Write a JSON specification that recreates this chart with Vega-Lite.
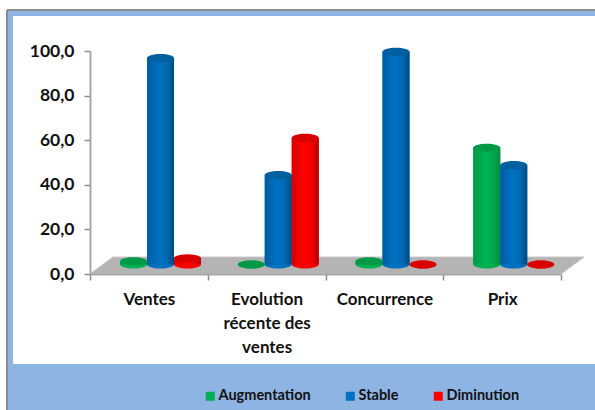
{"$schema":"https://vega.github.io/schema/vega-lite/v6.json","width":588,"height":400,"autosize":{"type":"none"},"padding":{"left":7,"top":10,"right":0,"bottom":0},"background":"white","view":{"fill":"#8eb4e3","stroke":null},"config":{"font":"Lato"},"datasets":{"bars":[{"categorie":"Ventes","serie":"Augmentation","valeur":1.5},{"categorie":"Ventes","serie":"Stable","valeur":95.6},{"categorie":"Ventes","serie":"Diminution","valeur":2.9},{"categorie":"Evolution récente des ventes","serie":"Augmentation","valeur":0},{"categorie":"Evolution récente des ventes","serie":"Stable","valeur":41.4},{"categorie":"Evolution récente des ventes","serie":"Diminution","valeur":58.6},{"categorie":"Concurrence","serie":"Augmentation","valeur":1.5},{"categorie":"Concurrence","serie":"Stable","valeur":98.5},{"categorie":"Concurrence","serie":"Diminution","valeur":0},{"categorie":"Prix","serie":"Augmentation","valeur":54},{"categorie":"Prix","serie":"Stable","valeur":46},{"categorie":"Prix","serie":"Diminution","valeur":0}],"floor":[{"x":0,"top":0,"bottom":0},{"x":0.195,"top":7.6,"bottom":0},{"x":4,"top":7.6,"bottom":0},{"x":4.195,"top":7.6,"bottom":7.6}],"panel":[{"x0":0.0102,"x1":1,"y0":0.015,"y1":0.885}]},"layer":[{"data":{"name":"panel"},"mark":{"type":"rect","fill":"white"},"encoding":{"x":{"field":"x0","type":"quantitative","scale":{"domain":[0,1],"range":[0,588],"nice":false,"zero":false},"axis":null},"x2":{"field":"x1"},"y":{"field":"y0","type":"quantitative","scale":{"domain":[0,1],"range":[0,400],"nice":false,"zero":false},"axis":null},"y2":{"field":"y1"}}},{"data":{"name":"panel"},"mark":{"type":"rule","stroke":"#8c8c8c","strokeWidth":2},"encoding":{"x":{"datum":0,"type":"quantitative","scale":{"domain":[0,1],"range":[0,588]},"axis":null}}},{"data":{"name":"panel"},"mark":{"type":"rule","stroke":"#8c8c8c","strokeWidth":2},"encoding":{"y":{"datum":0,"type":"quantitative","scale":{"domain":[0,1],"range":[0,400]},"axis":null}}},{"data":{"name":"floor"},"mark":{"type":"area","fill":"#b4b4b4","stroke":"#c4c4c4","strokeWidth":1},"encoding":{"x":{"field":"x","type":"quantitative","scale":{"domain":[0,4],"range":[83,554],"nice":false,"zero":false},"axis":null},"y":{"field":"top","type":"quantitative","scale":{"domain":[0,100],"range":[264,41],"nice":false},"axis":null},"y2":{"field":"bottom"}}},{"data":{"name":"bars"},"mark":{"type":"rule","opacity":0},"encoding":{"x":{"field":"categorie","type":"nominal","sort":null,"scale":{"domain":["Ventes","Evolution récente des ventes","Concurrence","Prix"],"range":[83,554],"paddingInner":0,"paddingOuter":0},"axis":{"title":null,"zindex":1,"orient":"bottom","offset":-136,"labelAngle":0,"tickBand":"extent","domainColor":"#a6a6a6","domainWidth":2,"tickColor":"#8c8c8c","tickWidth":1.5,"tickSize":6,"labelFont":"Lato","labelFontWeight":"bold","labelFontSize":17,"labelColor":"#111111","labelPadding":11,"labelLineHeight":24,"labelLimit":0,"labelExpr":"datum.label=='Evolution récente des ventes'?['Evolution','récente des','ventes']:datum.label"}},"y":{"field":"valeur","type":"quantitative","scale":{"domain":[0,100],"range":[264,41],"nice":false},"axis":{"title":null,"zindex":1,"orient":"left","offset":-83,"values":[0,20,40,60,80,100],"grid":false,"domainColor":"#a6a6a6","domainWidth":2,"tickColor":"#8c8c8c","tickWidth":1.5,"tickSize":6,"labelFont":"Lato","labelFontWeight":"bold","labelFontSize":17.5,"labelColor":"#111111","labelPadding":10,"labelExpr":"replace(format(datum.value,'.1f'),'.',',')"}}}},{"data":{"name":"bars"},"mark":{"type":"bar"},"encoding":{"x":{"field":"categorie","type":"nominal","sort":null,"scale":{"domain":["Ventes","Evolution récente des ventes","Concurrence","Prix"],"range":[83,554],"paddingInner":0,"paddingOuter":0},"axis":null},"xOffset":{"field":"serie","type":"nominal","sort":null,"scale":{"domain":["Augmentation","Stable","Diminution"],"range":[30,111],"paddingInner":0,"paddingOuter":0}},"y":{"field":"valeur","type":"quantitative","scale":{"domain":[0,100],"range":[254.5,38.5],"nice":false},"axis":null},"color":{"field":"serie","type":"nominal","sort":null,"scale":{"domain":["Augmentation","Stable","Diminution"],"range":["#00b050","#0070c0","#ff0000"]},"legend":{"title":null,"orient":"none","legendX":196,"legendY":379,"columns":3,"gridAlign":"none","columnPadding":32,"symbolType":"square","symbolSize":81,"symbolStrokeWidth":0,"labelFont":"Lato","labelFontWeight":"bold","labelFontSize":14.5,"labelColor":"#111111","labelOffset":1,"labelLimit":0}}}},{"data":{"name":"bars"},"mark":{"type":"point","filled":true,"opacity":1,"shape":"M-1,0A1,0.3,0,1,0,1,0A1,0.3,0,1,0,-1,0Z","size":729},"encoding":{"x":{"field":"categorie","type":"nominal","sort":null,"scale":{"domain":["Ventes","Evolution récente des ventes","Concurrence","Prix"],"range":[83,554],"paddingInner":0,"paddingOuter":0},"axis":null},"xOffset":{"field":"serie","type":"nominal","sort":null,"scale":{"domain":["Augmentation","Stable","Diminution"],"range":[43.5,97.5],"padding":0}},"y":{"datum":0,"type":"quantitative","scale":{"domain":[0,100],"range":[254.5,38.5],"nice":false},"axis":null},"color":{"field":"serie","type":"nominal","sort":null,"scale":{"domain":["Augmentation","Stable","Diminution"],"range":["#00b050","#0070c0","#ff0000"]},"legend":null}}},{"data":{"name":"bars"},"transform":[{"filter":"datum.valeur>0"}],"mark":{"type":"bar"},"encoding":{"x":{"field":"categorie","type":"nominal","sort":null,"scale":{"domain":["Ventes","Evolution récente des ventes","Concurrence","Prix"],"range":[83,554],"paddingInner":0,"paddingOuter":0},"axis":null},"xOffset":{"field":"serie","type":"nominal","sort":null,"scale":{"domain":["Augmentation","Stable","Diminution"],"range":[30,111],"paddingInner":0,"paddingOuter":0}},"y":{"field":"valeur","type":"quantitative","scale":{"domain":[0,100],"range":[254.5,38.5],"nice":false},"axis":null},"fill":{"condition":[{"test":"datum.serie=='Stable'","value":{"gradient":"linear","x1":0,"x2":1,"y1":0,"y2":0,"stops":[{"offset":0,"color":"#005c9e"},{"offset":0.45,"color":"#0072c4"},{"offset":0.75,"color":"#0068b0"},{"offset":1,"color":"#004a80"}]}},{"test":"datum.serie=='Diminution'","value":{"gradient":"linear","x1":0,"x2":1,"y1":0,"y2":0,"stops":[{"offset":0,"color":"#d80000"},{"offset":0.45,"color":"#ff0000"},{"offset":0.75,"color":"#f00000"},{"offset":1,"color":"#b80000"}]}}],"value":{"gradient":"linear","x1":0,"x2":1,"y1":0,"y2":0,"stops":[{"offset":0,"color":"#009a48"},{"offset":0.45,"color":"#00b454"},{"offset":0.75,"color":"#00a84e"},{"offset":1,"color":"#008a40"}]}}}},{"data":{"name":"bars"},"mark":{"type":"point","filled":true,"opacity":1,"shape":"M-1,0A1,0.3,0,1,0,1,0A1,0.3,0,1,0,-1,0Z","size":729},"encoding":{"x":{"field":"categorie","type":"nominal","sort":null,"scale":{"domain":["Ventes","Evolution récente des ventes","Concurrence","Prix"],"range":[83,554],"paddingInner":0,"paddingOuter":0},"axis":null},"xOffset":{"field":"serie","type":"nominal","sort":null,"scale":{"domain":["Augmentation","Stable","Diminution"],"range":[43.5,97.5],"padding":0}},"y":{"field":"valeur","type":"quantitative","scale":{"domain":[0,100],"range":[254.5,38.5],"nice":false},"axis":null},"fill":{"field":"serie","type":"nominal","sort":null,"scale":{"domain":["Augmentation","Stable","Diminution"],"range":["#009a46","#005f9f","#d80000"]},"legend":null}}}],"resolve":{"scale":{"x":"independent","y":"independent","xOffset":"independent","fill":"independent"}}}
